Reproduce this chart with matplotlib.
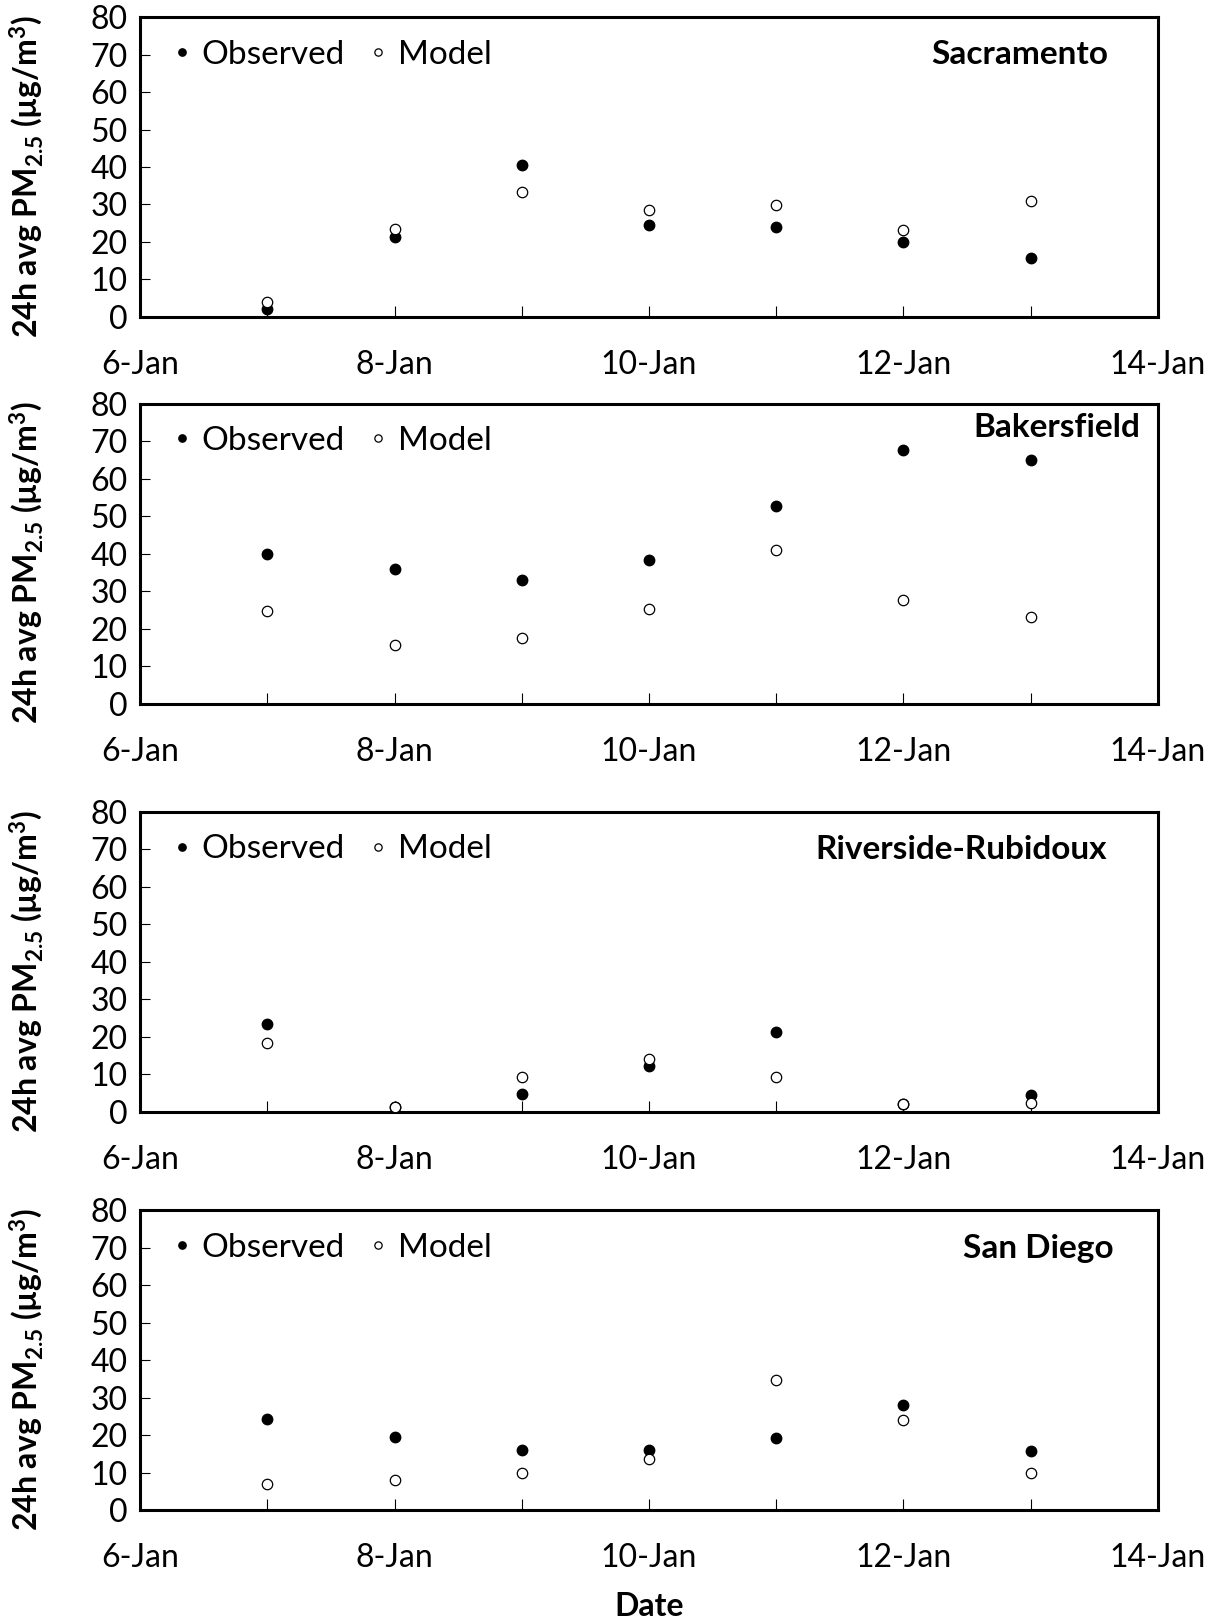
import matplotlib
matplotlib.use('Agg')
import matplotlib.pyplot as plt

plt.rcParams['font.family'] = ['Lato', 'DejaVu Sans']
plt.rcParams['mathtext.default'] = 'regular'

# 日期 (1月) 与刻度标签
days = [7, 8, 9, 10, 11, 12, 13]
tick_days = [6, 7, 8, 9, 10, 11, 12, 13, 14]
tick_labels = ['6-Jan', '', '8-Jan', '', '10-Jan', '', '12-Jan', '', '14-Jan']

stations = ['Sacramento', 'Bakersfield', 'Riverside-Rubidoux', 'San Diego']

# 观测值与模型值 (24h avg PM2.5)
sac_obs = [2.2, 21.2, 40.5, 24.6, 24.1, 20.0, 15.8]
sac_model = [3.9, 23.5, 33.3, 28.6, 29.8, 23.3, 30.8]
bak_obs = [39.9, 35.9, 33.0, 38.4, 52.7, 67.6, 64.9]
bak_model = [24.8, 15.7, 17.4, 25.3, 41.0, 27.5, 23.2]
riv_obs = [23.4, 1.2, 4.9, 12.3, 21.2, 2.0, 4.6]
riv_model = [18.4, 1.2, 9.2, 14.2, 9.4, 2.0, 2.3]
sd_obs = [24.4, 19.6, 16.0, 16.1, 19.2, 28.0, 15.8]
sd_model = [7.0, 8.1, 10.0, 13.6, 34.7, 23.9, 9.8]

obs_all = [sac_obs, bak_obs, riv_obs, sd_obs]
model_all = [sac_model, bak_model, riv_model, sd_model]

# 每个面板: 底部位置, 站名位置
bottoms = [0.8047, 0.5665, 0.3149, 0.0696]
name_pos = [(0.951, 0.875), (0.983, 0.92), (0.950, 0.875), (0.956, 0.873)]

fig = plt.figure(figsize=(12.22, 16.23), dpi=100)

for i in range(4):
    ax = fig.add_axes([0.1146, bottoms[i], 0.833, 0.1848])
    ax.plot(days, obs_all[i], 'o', color='black', markersize=7.5, label='Observed', zorder=3)
    ax.plot(days, model_all[i], 'o', markerfacecolor='white', markeredgecolor='black',
            markeredgewidth=0.9, markersize=7.5, label='Model', zorder=4)
    ax.set_xlim(6, 14)
    ax.set_ylim(0, 80)
    ax.set_yticks(range(0, 81, 10))
    ax.set_xticks(tick_days)
    ax.set_xticklabels(tick_labels)
    ax.tick_params(axis='y', direction='in', length=7, width=0.8, labelsize=23, pad=9)
    ax.tick_params(axis='x', direction='in', length=8, width=0.8, labelsize=23, pad=24)
    for s in ax.spines.values():
        s.set_linewidth(2.2)
        s.set_color('black')
    ax.set_ylabel(r'24h avg PM$_{2.5}$ (µg/m$^{3}$)', fontsize=23, fontweight='bold')
    ax.yaxis.set_label_coords(-0.093, 0.47)
    ax.legend(loc='center left', bbox_to_anchor=(0.031, 0.875), ncol=2, frameon=False,
              fontsize=24, handlelength=0.6, handletextpad=0.3, columnspacing=0.7,
              markerscale=0.7, borderaxespad=0, borderpad=0)
    ax.text(name_pos[i][0], name_pos[i][1], stations[i], transform=ax.transAxes,
            ha='right', va='center', fontsize=24, fontweight='bold')

fig.text(0.531, 1 - 1606 / 1623, 'Date', ha='center', va='center', fontsize=23, fontweight='bold')

fig.savefig('out.png', dpi=100)
